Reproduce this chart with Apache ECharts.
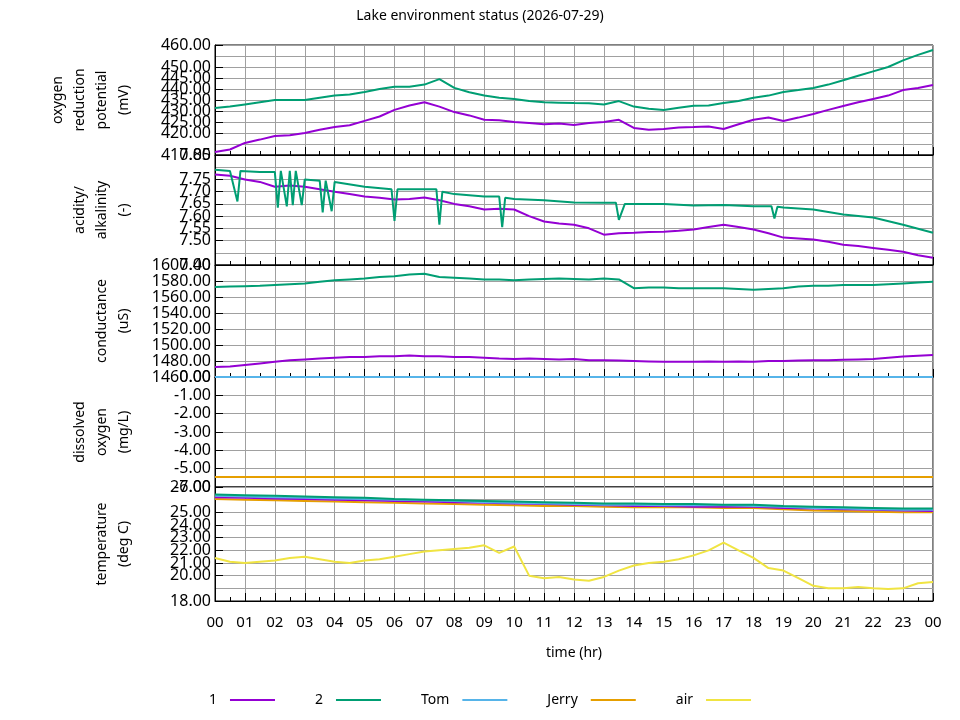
<!DOCTYPE html>
<html><head><meta charset="utf-8">
<script src="https://cdn.jsdelivr.net/npm/echarts@6/dist/echarts.min.js"></script>
<style>html,body{margin:0;padding:0;background:#fff}#c{width:960px;height:720px}</style>
</head><body><div id="c"></div>
<script>
const hours = [];
for (let i = 0; i <= 48; i++) hours.push(i / 2);
const hoursH = [];
for (let i = 0; i <= 24; i++) hoursH.push(i);

const orp1 = [411.4,412.5,415.5,417,418.6,419,420,421.5,422.7,423.5,425.5,427.5,430.5,432.5,434,432,429.5,428,426,425.8,425,424.5,424,424.3,423.6,424.5,425,426,422.3,421.5,421.8,422.5,422.7,423,421.8,424,426,427,425.5,427,428.6,430.5,432.3,434,435.5,437,439.5,440.5,441.8];
const orp2 = [431.4,432,433,434,435,435,435,436,437,437.5,438.6,440,441,441,442,444.5,440.5,438.5,437,436,435.5,434.5,434,433.8,433.6,433.5,433,434.5,432,431,430.5,431.5,432.4,432.5,433.6,434.5,436,437,438.6,439.5,440.5,442,444,446,448,450,453,455.5,457.7];
const ph1 = [7.77,7.765,7.75,7.74,7.72,7.725,7.72,7.71,7.70,7.69,7.68,7.675,7.668,7.67,7.676,7.665,7.65,7.64,7.627,7.63,7.627,7.60,7.578,7.57,7.565,7.55,7.524,7.53,7.532,7.535,7.536,7.54,7.545,7.555,7.565,7.555,7.545,7.53,7.512,7.508,7.504,7.495,7.483,7.478,7.47,7.462,7.454,7.44,7.43];
const ph2Time = [0,0.5,0.75,0.85,1.5,2.0,2.1,2.2,2.4,2.5,2.6,2.7,2.9,3.0,3.5,3.6,3.7,3.9,4.0,5,5.9,6.0,6.1,7,7.4,7.5,7.6,8,9,9.5,9.6,9.7,10,11,12,13,13.4,13.5,13.7,14,15,16,17,18,18.6,18.7,18.8,19,20,21,22,23,24];
const ph2 = [7.79,7.785,7.66,7.785,7.78,7.78,7.635,7.785,7.64,7.785,7.645,7.785,7.645,7.75,7.745,7.615,7.745,7.62,7.74,7.72,7.71,7.58,7.71,7.71,7.71,7.565,7.70,7.69,7.68,7.68,7.555,7.675,7.67,7.665,7.656,7.655,7.655,7.585,7.65,7.65,7.65,7.643,7.645,7.64,7.64,7.59,7.638,7.635,7.627,7.607,7.594,7.565,7.532];
const cond1 = [1472.5,1473,1475,1477,1479,1481,1482,1483,1484,1485,1485,1486,1486,1487,1486,1486,1485,1485,1484,1483,1482.5,1483,1482.5,1482,1482.5,1481,1481,1480.5,1480,1479.5,1479,1479,1479,1479.5,1479,1479.5,1479,1480,1480,1480.5,1481,1481,1481.5,1482,1482.5,1484,1485.5,1486.5,1487.5];
const cond2 = [1572.5,1573,1573.5,1574,1575,1576,1577,1579,1581,1582,1583,1585,1586,1588,1589,1585,1584,1583,1582,1582,1581,1582,1582.5,1583,1582.5,1582,1583,1582,1571,1572,1572,1571,1571,1571,1571,1570,1569,1570,1571,1573,1574,1574,1575,1575,1575,1576,1577,1578,1579];
const doTime = [0, 24];
const doTom = [0, 0];
const doJerry = [-5.45, -5.45];
const tempAir = [21.4,21.1,21.0,21.1,21.2,21.4,21.5,21.3,21.1,21.0,21.2,21.3,21.5,21.7,21.9,22.0,22.1,22.2,22.4,21.8,22.3,20.0,19.8,19.9,19.7,19.6,19.9,20.4,20.8,21.0,21.1,21.3,21.6,22.0,22.6,22.0,21.4,20.6,20.4,19.8,19.2,19.0,19.0,19.1,19.0,18.95,19.0,19.4,19.5];
const temp2 = [26.4,26.35,26.3,26.25,26.2,26.15,26.05,26.0,25.95,25.9,25.85,25.8,25.75,25.7,25.7,25.65,25.65,25.6,25.6,25.5,25.45,25.4,25.35,25.3,25.3];
const temp1 = [26.2,26.15,26.1,26.05,26.0,25.95,25.9,25.85,25.8,25.75,25.7,25.65,25.6,25.55,25.5,25.5,25.45,25.45,25.45,25.35,25.3,25.25,25.2,25.15,25.1];
const tempTom = [26.3,26.25,26.2,26.15,26.1,26.05,26.0,25.95,25.9,25.8,25.75,25.7,25.65,25.6,25.6,25.55,25.55,25.55,25.5,25.45,25.35,25.3,25.25,25.2,25.2];
const tempJerry = [26.05,26.0,25.95,25.9,25.85,25.8,25.75,25.7,25.65,25.6,25.55,25.5,25.5,25.45,25.4,25.4,25.4,25.35,25.35,25.25,25.15,25.1,25.05,25.0,25.0];

const colors = {'1':'#9400d3','2':'#009e73','Tom':'#56b4e9','Jerry':'#e69f00','air':'#f0e442'};
const zip = (xs, ys) => xs.map((x, i) => [x, ys[i]]);

const panels = [
  {top:45, h:110, min:410, max:460, iv:5, name:'oxygen\nreduction\npotential\n(mV)'},
  {top:155, h:110, min:7.40, max:7.85, iv:0.05, name:'acidity/\nalkalinity\n(-)'},
  {top:265, h:112, min:1460, max:1600, iv:20, name:'conductance\n(uS)'},
  {top:377, h:110, min:-6, max:0, iv:1, name:'dissolved\noxygen\n(mg/L)'},
  {top:487, h:114, min:18, max:27, iv:1, name:'temperature\n(deg C)'}
];
const font = 'Noto Sans, DejaVu Sans, sans-serif';
const grid = [], xAxis = [], yAxis = [];
panels.forEach((p, i) => {
  grid.push({left:215, right:27, top:p.top, height:p.h, show:true, borderColor:'#000', borderWidth:1, backgroundColor:'transparent'});
  const last = i === panels.length - 1;
  xAxis.push({type:'value', gridIndex:i, min:0, max:24, interval:1,
    axisLine:{show:true, lineStyle:{color:'#000'}}, axisTick:{show:true, inside:true, length:8, lineStyle:{color:'#000'}},
    minorTick:{show:true, splitNumber:2, length:4, lineStyle:{color:'#000'}},
    splitLine:{show:true, lineStyle:{color:'#a0a0a0', width:1}},
    axisLabel:{show:last, fontSize:15, color:'#000', fontFamily:font, margin:14,
      formatter:v => String(Math.round(v) % 24).padStart(2, '0')},
    name: last ? 'time (hr)' : '', nameLocation:'middle', nameGap:45,
    nameTextStyle:{fontSize:14, color:'#000', fontFamily:font}});
  yAxis.push({type:'value', gridIndex:i, min:p.min, max:p.max, interval:p.iv,
    axisLine:{show:true, lineStyle:{color:'#000'}}, axisTick:{show:true, inside:true, length:8, lineStyle:{color:'#000'}},
    splitLine:{show:true, lineStyle:{color:'#a0a0a0', width:1}},
    axisLabel:{fontSize:16, color:'#000', fontFamily:font, margin:4, showMinLabel:true, showMaxLabel:true, hideOverlap:false,
      formatter:v => v.toFixed(2)},
    name:p.name, nameLocation:'middle', nameRotate:90, nameGap:80,
    nameTextStyle:{fontSize:14, color:'#000', fontFamily:font, lineHeight:22}});
});

const mk = (name, gi, data) => ({name, type:'line', xAxisIndex:gi, yAxisIndex:gi, data, showSymbol:false,
  symbol:'none', color:colors[name], lineStyle:{width:2, color:colors[name]}, animation:false});

const series = [
  mk('1', 0, zip(hours, orp1)), mk('2', 0, zip(hours, orp2)),
  mk('1', 1, zip(hours, ph1)), mk('2', 1, zip(ph2Time, ph2)),
  mk('1', 2, zip(hours, cond1)), mk('2', 2, zip(hours, cond2)),
  mk('Jerry', 3, zip(doTime, doJerry)), mk('Tom', 3, zip(doTime, doTom)),
  mk('air', 4, zip(hours, tempAir)), mk('Jerry', 4, zip(hoursH, tempJerry)),
  mk('1', 4, zip(hoursH, temp1)), mk('Tom', 4, zip(hoursH, tempTom)), mk('2', 4, zip(hoursH, temp2))
];

const chart = echarts.init(document.getElementById('c'));
chart.setOption({
  animation:false,
  title:{text:'Lake environment status (2026-07-29)', left:'center', top:4,
    textStyle:{fontSize:14, fontWeight:'normal', color:'#000', fontFamily:font}},
  legend:{data:['1','2','Tom','Jerry','air'], bottom:8, left:'center', align:'right',
    icon:'rect', itemWidth:45, itemHeight:2, itemGap:40,
    textStyle:{fontSize:14, color:'#000', fontFamily:font, padding:[0,8,0,0]}},
  grid, xAxis, yAxis, series
});
</script></body></html>
